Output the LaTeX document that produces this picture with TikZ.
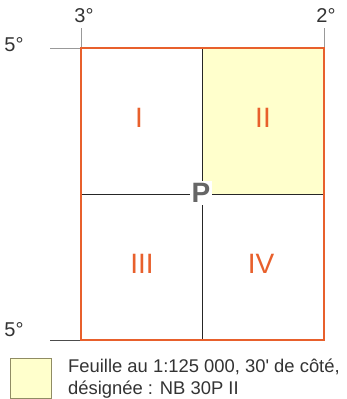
\documentclass[tikz,border=0pt]{standalone}
\usepackage{fontspec}
\setmainfont{Liberation Sans}[Ligatures=TeXOff]
\definecolor{frameor}{HTML}{E8602C}
\definecolor{paleyel}{HTML}{FFFFCC}
\definecolor{txtgray}{HTML}{333333}
\definecolor{pgray}{HTML}{666666}
\begin{document}
\begin{tikzpicture}[x=1pt,y=-1pt,
  deg/.style={font=\fontsize{20}{22}\selectfont,text=txtgray,inner sep=0pt},
  roman/.style={font=\fontsize{28}{30}\selectfont,text=frameor,inner sep=0pt},
  tick/.style={draw=gray!80,line width=0.8pt},
  inner/.style={draw=black!85,line width=0.9pt},
  frame/.style={draw=frameor,line width=1.8pt},
  legtext/.style={font=\fontsize{18.4}{22}\selectfont,text=txtgray,inner sep=0pt,anchor=base west}]
\useasboundingbox (0,0) rectangle (346,399);
\fill[white] (0,0) rectangle (346,399);
% grid corners
\coordinate (tl) at (81,48);
\coordinate (tr) at (324,48);
\coordinate (bl) at (81,340);
\coordinate (br) at (324,340);
\coordinate (tm) at (202,48);
\coordinate (bm) at (202,340);
\coordinate (lm) at (81,194);
\coordinate (rm) at (324,194);
% yellow sheet II
\fill[paleyel] (tm) rectangle (rm);
% ticks
\coordinate (t3) at (81,28);
\coordinate (t2) at (324,28);
\coordinate (l5a) at (50,48);
\coordinate (l5b) at (50,340);
\draw[tick] (t3) -- (tl);
\draw[tick] (t2) -- (tr);
\draw[tick] (l5a) -- (tl);
\draw[draw=black!70,line width=0.8pt] (l5b) -- (bl);
% inner lines
\draw[inner] (tm) -- (bm);
\draw[inner] (lm) -- (rm);
% frame
\draw[frame] (tl) rectangle (br);
% degree labels
\node[deg] (d3) at (84,16) {3°};
\node[deg] (d2) at (326,16) {2°};
\node[deg] (d5a) at (14,45) {5°};
\node[deg] (d5b) at (14,330) {5°};
% roman labels
\node[roman] (r1) at (139,118) {I};
\node[roman] (r2) at (263,118) {II};
\node[roman] (r3) at (142,264) {III};
\node[roman] (r4) at (261,264) {IV};
% P
\node[fill=white,inner sep=2pt,text=pgray,font=\bfseries\fontsize{28}{29}\selectfont] (p) at (201,193) {P};
% legend
\node[draw=gray!70!olive,fill=paleyel,line width=0.8pt,minimum width=41pt,minimum height=40pt,inner sep=0pt] (leg) at (31,378) {};
\node[legtext] (lt1) at (68,372) {Feuille au 1:125 000, 30' de côté,};
\node[legtext] (lt2) at (68,394) {désignée : NB 30P II};
\end{tikzpicture}
\end{document}
